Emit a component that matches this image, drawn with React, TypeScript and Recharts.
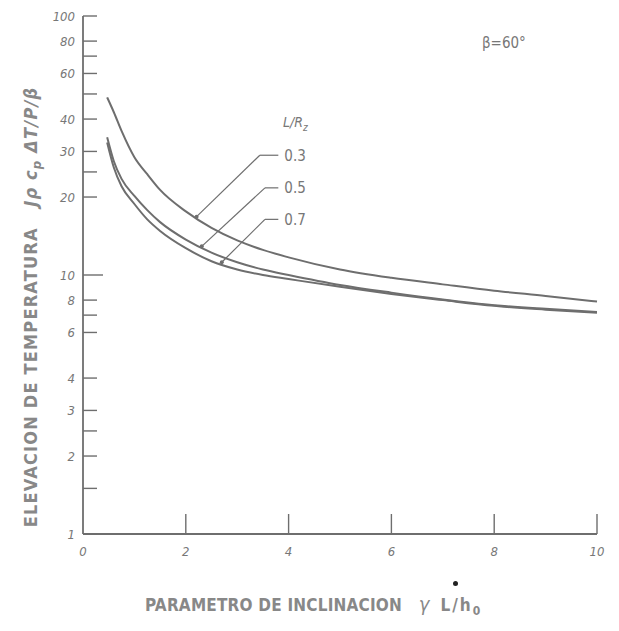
import { LineChart, Line, XAxis, YAxis, ReferenceLine, ReferenceDot } from "recharts";

// inclination parameter (x) and temperature rise for each L/Rz
const xs = [0.47, 0.6, 0.75, 1, 1.25, 1.5, 2, 2.5, 3, 3.5, 4, 5, 6, 7, 8, 9, 10];
const lr03 = [48.5, 42.5, 36, 28.5, 24.5, 21.3, 17.6, 15.2, 13.6, 12.5, 11.7, 10.5, 9.75, 9.2, 8.7, 8.3, 7.9];
const lr05 = [34, 27.5, 23.5, 20.2, 17.8, 16.0, 13.7, 12.2, 11.2, 10.5, 10.0, 9.15, 8.55, 8.05, 7.65, 7.4, 7.2];
const lr07 = [32.5, 26, 22, 18.8, 16.4, 14.8, 12.7, 11.3, 10.5, 10.0, 9.65, 9.0, 8.45, 8.0, 7.6, 7.35, 7.15];

const xTicks = [0, 2, 4, 6, 8, 10];
const yLabeled = [1, 2, 3, 4, 6, 8, 10, 20, 30, 40, 60, 80, 100];
const yMinor = [1.5, 2.5, 7, 25, 50, 70];
const yTicks = [...yLabeled, ...yMinor].sort((a, b) => a - b);

// leader lines: [label, tip, elbow, end]
const leaders = [
  { label: "0.3", tip: { x: 2.21, y: 16.8 }, elbow: { x: 3.44, y: 29 }, end: { x: 3.8, y: 29 } },
  { label: "0.5", tip: { x: 2.31, y: 12.9 }, elbow: { x: 3.54, y: 21.7 }, end: { x: 3.8, y: 21.7 } },
  { label: "0.7", tip: { x: 2.7, y: 11.2 }, elbow: { x: 3.54, y: 16.4 }, end: { x: 3.8, y: 16.4 } },
];

const data = xs.map((x, i) => ({ x, a: lr03[i], b: lr05[i], c: lr07[i] }));

const ink = "#6e6e6e";
const font = "'DejaVu Sans Condensed', 'Liberation Sans Narrow', sans-serif";

const YTick = (props: any) => {
  const { x, y, payload } = props;
  const v = payload.value;
  const labeled = yLabeled.includes(v);
  const len = v === 10 ? 20 : 14;
  return (
    <g>
      <line x1={x} x2={x + len} y1={y} y2={y} stroke={ink} strokeWidth={1.4} />
      {labeled && (
        <text x={x - 8} y={y + 5} textAnchor="end" fontSize={13} fontStyle="italic" fill="#777" fontFamily={font}>
          {v}
        </text>
      )}
    </g>
  );
};

const XTick = (props: any) => {
  const { x, y, payload } = props;
  return (
    <g>
      {payload.value !== 0 && (
        <line x1={x} x2={x} y1={y} y2={y - 20} stroke={ink} strokeWidth={1.4} />
      )}
      <text x={x} y={y + 22} textAnchor="middle" fontSize={13} fontStyle="italic" fill="#777" fontFamily={font}>
        {payload.value}
      </text>
    </g>
  );
};

export default function App() {
  return (
    <div style={{ position: "absolute", left: 0, top: 0, width: 619, height: 631, background: "#fff" }}>
      <LineChart width={619} height={631} data={data} margin={{ top: 16, right: 22, bottom: 0, left: 0 }}>
        <XAxis
          dataKey="x"
          type="number"
          domain={[0, 10]}
          ticks={xTicks}
          interval={0}
          tickLine={false}
          tickSize={0}
          tickMargin={0}
          tick={<XTick />}
          axisLine={{ stroke: ink, strokeWidth: 1.8 }}
          height={97}
        />
        <YAxis
          type="number"
          scale="log"
          domain={[1, 100]}
          ticks={yTicks}
          interval={0}
          allowDataOverflow
          tickLine={false}
          tickSize={0}
          tickMargin={0}
          tick={<YTick />}
          axisLine={{ stroke: ink, strokeWidth: 1.8 }}
          width={83}
        />
        <Line dataKey="a" type="monotone" stroke={ink} strokeWidth={2} dot={false} isAnimationActive={false} />
        <Line dataKey="b" type="monotone" stroke={ink} strokeWidth={2} dot={false} isAnimationActive={false} />
        <Line dataKey="c" type="monotone" stroke={ink} strokeWidth={2} dot={false} isAnimationActive={false} />
        {leaders.map((l) => (
          <ReferenceLine
            key={l.label + "d"}
            segment={[l.tip, l.elbow]}
            stroke={ink}
            strokeWidth={1.2}
            ifOverflow="visible"
          />
        ))}
        {leaders.map((l) => (
          <ReferenceLine
            key={l.label + "h"}
            segment={[l.elbow, l.end]}
            stroke={ink}
            strokeWidth={1.2}
            ifOverflow="visible"
          />
        ))}
        {leaders.map((l) => (
          <ReferenceDot key={l.label + "t"} x={l.tip.x} y={l.tip.y} r={2} fill={ink} stroke="none" ifOverflow="visible" />
        ))}
        {leaders.map((l) => (
          <ReferenceDot
            key={l.label}
            x={l.end.x}
            y={l.end.y}
            r={0}
            ifOverflow="visible"
            label={{ value: l.label, position: "right", offset: 6, fontSize: 15, fill: "#777", fontFamily: font }}
          />
        ))}
      </LineChart>
      <div
        style={{
          position: "absolute",
          left: 283,
          top: 114,
          fontFamily: font,
          fontStyle: "italic",
          fontSize: 14,
          color: "#777",
        }}
      >
        L/R<sub style={{ fontSize: 10 }}>z</sub>
      </div>
      <div style={{ position: "absolute", left: 482, top: 34, fontFamily: font, fontSize: 15, color: "#777" }}>
        β=60°
      </div>
      <div
        style={{
          position: "absolute",
          left: 32,
          top: 307,
          transform: "translate(-50%, -50%) rotate(-90deg)",
          whiteSpace: "nowrap",
          fontFamily: font,
          fontSize: 18,
          fontWeight: 700,
          color: "#888",
          letterSpacing: 1.2,
        }}
      >
        ELEVACION DE TEMPERATURA&nbsp;&nbsp;&nbsp;<i>Jρ c<sub style={{ fontSize: 13 }}>p</sub> ΔT/P/β</i>
      </div>
      <div
        style={{
          position: "absolute",
          left: 145,
          top: 592,
          whiteSpace: "nowrap",
          fontFamily: font,
          fontSize: 17,
          fontWeight: 700,
          color: "#888",
          letterSpacing: 0.2,
        }}
      >
        PARAMETRO DE INCLINACION&nbsp;&nbsp;&nbsp;<i style={{ fontWeight: 400, fontSize: 20 }}>γ</i>&nbsp;&nbsp;
        <span style={{ letterSpacing: 2 }}>L/h</span>
        <sub style={{ fontSize: 12 }}>0</sub>
      </div>
      <div style={{ position: "absolute", left: 453, top: 581, width: 5, height: 5, borderRadius: 3, background: "#222" }} />
    </div>
  );
}
